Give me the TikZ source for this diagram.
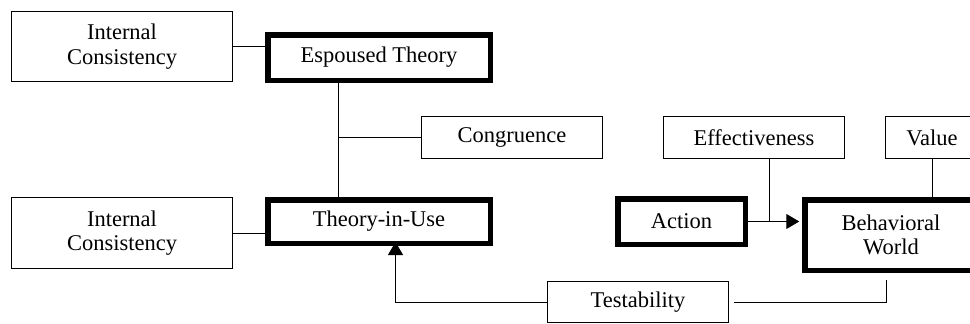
\documentclass[tikz,border=0pt]{standalone}
\usepackage{fontspec}
\setmainfont{Liberation Serif}
\usetikzlibrary{arrows.meta}
\newcommand\lab{\fontsize{22.5}{24.5}\selectfont}
\begin{document}
\begin{tikzpicture}[x=1pt,y=-1pt,
  tbox/.style={draw, line width=1pt, inner sep=0pt, align=center, font=\lab},
  kbox/.style={draw, line width=5.5pt, inner sep=0pt, align=center, font=\lab},
  conn/.style={line width=1pt},
  arr/.style={line width=1pt, -{Triangle[length=13pt,width=15pt]}}]
\useasboundingbox (0,0) rectangle (970,324);
\clip (0,0) rectangle (970,324);
\node[tbox, minimum width=221pt, minimum height=70pt] (IC1) at (122,46.5) {Internal\\Consistency};
\node[tbox, minimum width=221pt, minimum height=71pt] (IC2) at (122,233) {Internal\\Consistency};
\node[kbox, minimum width=222.5pt, minimum height=45.5pt] (ET) at (379,57.5) {Espoused Theory};
\node[kbox, minimum width=222.5pt, minimum height=43.5pt] (TiU) at (379,221.5) {Theory-in-Use};
\node[tbox, minimum width=181pt, minimum height=42pt] (Cong) at (512,137.5) {Congruence};
\node[tbox, minimum width=181pt, minimum height=42pt] (Eff) at (754,137.5) {Effectiveness};
\node[tbox, minimum width=93pt, minimum height=42pt] (Val) at (932,137.5) {Value};
\node[kbox, minimum width=127.5pt, minimum height=45.5pt] (Act) at (681.5,221.5) {Action};
\node[kbox, minimum width=172.5pt, minimum height=70.5pt] (BW) at (891,235) {Behavioral\\World};
\node[tbox, minimum width=181pt, minimum height=41pt] (Test) at (638,302) {Testability};
\coordinate (vx) at (338,0);
\coordinate (ex) at (769,0);
\coordinate (tx) at (395.5,0);
\coordinate (bwx) at (886,280);
\coordinate (tstart) at (734,302);
\draw[conn] (IC1.east) -- (IC1.east -| ET.west);
\draw[conn] (IC2.east) -- (IC2.east -| TiU.west);
\draw[conn] (ET.south -| vx) -- (TiU.north -| vx);
\draw[conn] (Cong.west) -- (Cong.west -| vx);
\draw[conn] (Eff.south -| ex) -- (Act.east -| ex);
\draw[arr, shorten >=2.75pt] (Act.east) -- (Act.east -| BW.west);
\draw[conn] (Val.south) -- (BW.north -| Val.south);
\draw[conn] (tstart) -| (bwx);
\draw[arr, shorten >=-4pt] (Test.west) -| (TiU.south -| tx);
\end{tikzpicture}
\end{document}
